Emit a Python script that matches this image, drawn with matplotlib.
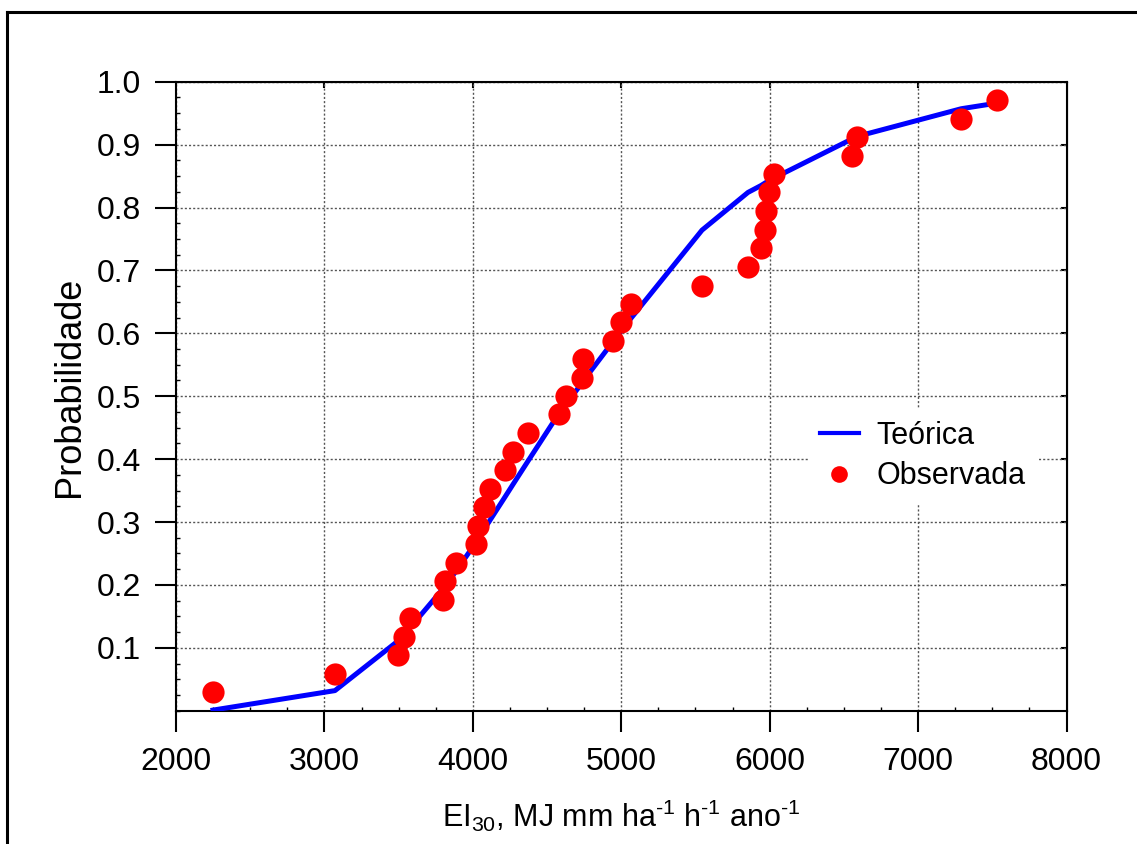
import matplotlib
matplotlib.use("Agg")
import matplotlib.pyplot as plt
from matplotlib.lines import Line2D
from matplotlib.ticker import MultipleLocator

plt.rcParams['font.family'] = ['Liberation Sans', 'DejaVu Sans']
plt.rcParams['mathtext.fontset'] = 'custom'
plt.rcParams['mathtext.rm'] = 'Liberation Sans'
plt.rcParams['mathtext.it'] = 'Liberation Sans'
plt.rcParams['mathtext.default'] = 'regular'

# EI30 observado (MJ mm ha-1 h-1 ano-1) e probabilidades
ei30 = [2249, 3071, 3496, 3536, 3577, 3799, 3813, 3887, 4022, 4035, 4075,
        4116, 4217, 4271, 4372, 4581, 4628, 4736, 4743, 4945, 4999, 5066,
        5544, 5854, 5942, 5969, 5976, 5996, 6030, 6555, 6589, 7290, 7532]
prob_obs = [0.029, 0.059, 0.088, 0.118, 0.147, 0.176, 0.206, 0.235, 0.265,
            0.294, 0.324, 0.353, 0.382, 0.412, 0.441, 0.471, 0.500, 0.529,
            0.559, 0.588, 0.618, 0.647, 0.676, 0.706, 0.735, 0.765, 0.794,
            0.824, 0.853, 0.882, 0.912, 0.941, 0.971]
prob_teo = [0.001, 0.032, 0.111, 0.121, 0.132, 0.194, 0.199, 0.222, 0.268,
            0.273, 0.288, 0.303, 0.340, 0.360, 0.397, 0.473, 0.488, 0.521,
            0.524, 0.587, 0.604, 0.624, 0.764, 0.824, 0.835, 0.839, 0.840,
            0.842, 0.847, 0.909, 0.913, 0.957, 0.966]

fig = plt.figure(figsize=(11.37, 8.44), dpi=100)
ax = fig.add_axes([0.1548, 0.1579, 0.7832, 0.7453])

ax.plot(ei30, prob_teo, color='#0000FF', lw=3.6, label='Teórica', zorder=3)
ax.plot(ei30, prob_obs, 'o', color='#FF0000', ms=16, mec='none',
        label='Observada', zorder=4)

ax.set_xlim(2000, 8000)
ax.set_ylim(0, 1.0)
ax.set_xticks([2000, 3000, 4000, 5000, 6000, 7000, 8000])
ax.set_yticks([0.1, 0.2, 0.3, 0.4, 0.5, 0.6, 0.7, 0.8, 0.9, 1.0])
ax.set_yticklabels(['0.1', '0.2', '0.3', '0.4', '0.5', '0.6', '0.7', '0.8', '0.9', '1.0'])
ax.xaxis.set_minor_locator(MultipleLocator(250))
ax.yaxis.set_minor_locator(MultipleLocator(0.025))

ax.tick_params(which='major', direction='out', length=15, width=1.5,
               labelsize=23)
ax.tick_params(axis='x', which='major', pad=11)
ax.tick_params(axis='y', which='major', pad=10)
ax.tick_params(which='minor', direction='in', length=3, width=1)
for s in ax.spines.values():
    s.set_linewidth(1.5)

ax.grid(True, which='major', linestyle=(0, (1.5, 1.5)), color='#555555', lw=1)

# pequenos ticks internos no topo e na direita
top = ax.secondary_xaxis('top')
top.set_xticks([3000, 4000, 5000, 6000, 7000])
top.tick_params(direction='in', length=4, width=1.5, labeltop=False)
right = ax.secondary_yaxis('right')
right.set_yticks([0.1, 0.2, 0.3, 0.4, 0.5, 0.6, 0.7, 0.8, 0.9])
right.tick_params(direction='in', length=4, width=1.5, labelright=False)

ax.set_xlabel(r'EI$_{30}$, MJ mm ha$^{\text{-1}}$ h$^{\text{-1}}$ ano$^{\text{-1}}$',
              fontsize=22, labelpad=15)
ax.set_ylabel('Probabilidade', fontsize=26, labelpad=10)
ax.yaxis.set_label_coords(-0.1, 0.515)

leg = ax.legend(loc='center', bbox_to_anchor=(0.839, 0.405), fontsize=22,
                frameon=True, fancybox=False, framealpha=1, edgecolor='none',
                facecolor='white', markerscale=0.75, handlelength=1.25,
                handletextpad=0.6, labelspacing=0.35, borderpad=0.4)
leg.get_lines()[0].set_linewidth(3)

# moldura da figura (esquerda e topo)
fig.add_artist(Line2D([7 / 1137, 7 / 1137], [0, 1 - 12 / 844], color='black', lw=2.2))
fig.add_artist(Line2D([7 / 1137, 1], [1 - 12 / 844, 1 - 12 / 844], color='black', lw=2.2))

plt.savefig('out.png', dpi=100)
